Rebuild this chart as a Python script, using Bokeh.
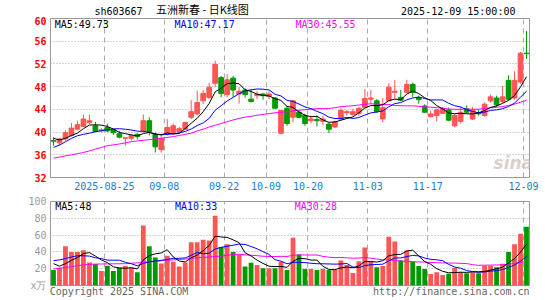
import numpy as np
import pandas as pd
from bokeh.plotting import figure
from bokeh.models import Range1d, FixedTicker, Label, ColumnDataSource
from bokeh.core.properties import value
from bokeh.layouts import column
from bokeh.embed import file_html
from bokeh.resources import INLINE

# ---------------- data ----------------
opens = [38.5, 38.1, 38.8, 39.4, 40.5, 41.0, 41.7, 41.1, 40.2, 40.8,
         40.4, 39.7, 38.9, 38.9, 39.6, 40.2, 42.0, 39.6, 36.9, 39.7,
         39.9, 40.1, 40.5, 42.6, 43.2, 45.5, 46.1, 48.6, 49.6, 46.6,
         49.5, 46.7, 47.4, 45.8, 46.4, 46.7, 46.3, 46.0, 39.8, 44.2,
         42.6, 43.5, 42.9, 42.0, 42.2, 41.9, 41.4, 40.9, 42.3, 43.4,
         43.1, 43.3, 44.35, 45.8, 45.5, 42.3, 45.5, 47.0, 46.1, 47.0,
         48.4, 46.1, 44.6, 42.7, 42.9, 43.3, 43.9, 41.1, 41.9, 44.1,
         42.3, 43.4, 42.9, 45.5, 46.0, 45.4, 49.1, 46.0, 48.8, 53.9]
highs = [39.1, 39.0, 40.3, 41.6, 42.0, 43.1, 43.1, 41.8, 40.7, 41.5,
         40.5, 40.2, 39.0, 39.5, 39.8, 43.1, 42.6, 39.9, 39.6, 42.3,
         41.5, 40.9, 41.8, 45.6, 47.3, 47.4, 48.7, 52.6, 49.9, 50.2,
         49.9, 47.9, 47.7, 47.4, 47.2, 46.9, 47.2, 46.2, 43.9, 44.6,
         45.6, 43.9, 43.2, 42.9, 42.9, 42.9, 41.7, 42.0, 44.3, 43.9,
         44.1, 44.4, 47.6, 47.4, 45.8, 46.0, 48.6, 49.2, 47.4, 49.2,
         48.7, 46.4, 44.9, 43.8, 44.1, 44.4, 44.3, 43.2, 44.4, 44.7,
         44.4, 44.0, 45.2, 46.6, 46.4, 48.1, 50.0, 50.7, 54.1, 57.8]
lows = [37.6, 37.7, 38.5, 39.2, 40.3, 40.9, 41.4, 40.0, 39.9, 40.0,
        39.5, 38.9, 37.6, 38.5, 38.7, 39.9, 39.4, 36.4, 36.4, 39.4,
        39.7, 39.8, 40.4, 42.3, 42.9, 44.9, 45.8, 47.9, 46.1, 46.1,
        46.2, 45.0, 46.1, 45.2, 45.8, 45.7, 45.8, 44.1, 39.6, 41.1,
        41.7, 42.4, 41.1, 41.5, 41.0, 41.2, 39.8, 40.7, 42.1, 42.9,
        42.8, 42.8, 44.2, 44.9, 43.4, 41.7, 45.4, 45.8, 45.4, 47.0,
        46.2, 45.0, 43.4, 42.6, 41.9, 43.2, 41.9, 40.8, 41.5, 43.2,
        42.1, 42.9, 42.7, 45.2, 44.4, 45.1, 45.5, 45.7, 48.5, 52.9]
closes = [38.4, 38.8, 39.9, 40.7, 41.3, 42.3, 42.0, 40.1, 40.4, 40.2,
          39.9, 39.1, 39.0, 39.4, 39.2, 42.0, 40.1, 37.4, 38.9, 40.8,
          41.1, 40.6, 41.7, 43.6, 45.2, 46.8, 47.9, 51.9, 46.8, 49.2,
          47.4, 47.2, 46.6, 45.4, 46.7, 46.4, 46.7, 44.2, 43.8, 41.5,
          45.5, 42.6, 41.5, 42.3, 42.0, 42.3, 40.5, 41.8, 43.8, 43.6,
          43.6, 44.2, 45.9, 46.0, 43.6, 44.3, 47.9, 47.2, 45.6, 48.4,
          47.0, 45.7, 43.5, 43.2, 43.9, 44.1, 42.1, 42.9, 43.5, 43.5,
          43.9, 43.2, 44.9, 46.2, 44.8, 46.2, 45.8, 49.1, 53.9, 53.8]
volumes = [18.4, 21.2, 46.7, 40.0, 40.0, 42.0, 27.5, 25.5, 17.3, 23.5,
           17.3, 21.2, 23.1, 21.2, 15.7, 71.4, 46.7, 33.3, 26.3, 35.3,
           28.2, 22.7, 27.5, 51.4, 51.4, 54.5, 53.7, 83.1, 45.9, 49.0,
           40.0, 36.9, 22.7, 27.0, 24.3, 20.4, 20.4, 20.4, 28.2, 18.4,
           56.9, 36.9, 19.6, 19.6, 18.4, 19.6, 18.4, 18.4, 29.8, 24.3,
           14.9, 29.0, 45.1, 29.0, 21.6, 23.1, 58.0, 52.5, 30.2, 41.6,
           28.2, 23.1, 19.6, 13.7, 15.7, 12.5, 14.1, 21.2, 15.7, 14.5,
           15.7, 14.5, 23.5, 23.5, 21.6, 25.9, 40.0, 49.0, 61.6, 69.8]

# moving-average values before enough history exists in the window
ma5_head = [38.9, 38.6, 38.9, 39.4]
ma10_head = [37.3, 37.7, 38.3, 38.9, 39.35, 39.6, 39.8, 40.06, 40.24]
ma30_head = [35.4, 35.6, 35.8, 36.0, 36.2, 36.4, 36.7, 37.0, 37.3, 37.6,
             37.75, 37.9, 38.1, 38.3, 38.45, 38.55, 38.65, 38.8, 38.9, 39.05,
             39.2, 39.4, 39.6, 39.8, 40.2, 40.5, 40.9, 41.2, 41.5]
vma5_head = [26.0, 23.0, 26.0, 30.0]
vma10_head = [29.5, 30.5, 32.0, 34.0, 35.4, 35.4, 35.0, 33.0, 32.0]
vma30_head = [19.7, 20.5, 21.5, 22.5, 23.5, 24.5, 25.2, 25.5, 25.6, 25.7,
              25.8, 25.9, 26.0, 26.5, 27.0, 27.5, 28.0, 28.8, 29.5, 30.0,
              30.5, 31.0, 31.5, 32.2, 33.0, 33.5, 34.0, 34.5, 35.0]

date_ticks = [9, 19, 29, 36, 43, 53, 63, 79]
date_labels = ["2025-08-25", "09-08", "09-22", "10-09", "10-20", "11-03", "11-17", "12-09"]
price_ticks = [32, 36, 40, 44, 48, 52, 56, 60]
vol_ticks = [0, 20, 40, 60, 80, 100]
vol_unit_label = "x万"

title_code = "sh603667"
title_name = "五洲新春 - 日K线图"
timestamp = "2025-12-09 15:00:00"
price_ma_labels = ["MA5:49.73", "MA10:47.17", "MA30:45.55"]
vol_ma_labels = ["MA5:48", "MA10:33", "MA30:28"]
footer_left = "Copyright 2025 SINA.COM"
footer_right = "http://finance.sina.com.cn"

# ---------------- derived ----------------
n = len(closes)
def ma(vals, w, head):
    s = pd.Series(vals).rolling(w).mean().tolist()
    return list(head) + s[len(head):]

ma5 = ma(closes, 5, ma5_head)
ma10 = ma(closes, 10, ma10_head)
ma30 = ma(closes, 30, ma30_head)
vma5 = ma(volumes, 5, vma5_head)
vma10 = ma(volumes, 10, vma10_head)
vma30 = ma(volumes, 30, vma30_head)

RED = "#ff5555"
GREEN = "#009a00"
x = [i + 0.5 for i in range(n)]
colors = [RED if c >= o else GREEN for o, c in zip(opens, closes)]
src = ColumnDataSource(dict(
    x=x, open=opens, close=closes, high=highs, low=lows, vol=volumes,
    top=[max(o, c) for o, c in zip(opens, closes)],
    bottom=[min(o, c) for o, c in zip(opens, closes)],
    color=colors,
    ma5=ma5, ma10=ma10, ma30=ma30, vma5=vma5, vma10=vma10, vma30=vma30,
))

MONO = "DejaVu Sans Mono"
CJK = "Noto Sans CJK SC"
GRID = "#aaaaaa"
tick_pos = [float(t) for t in date_ticks]
W = 545
H0 = 16

def style(p):
    p.outline_line_color = "#999999"
    p.outline_line_width = 1
    p.background_fill_color = "white"
    p.border_fill_color = "white"
    p.xgrid.ticker = FixedTicker(ticks=tick_pos)
    p.xgrid.grid_line_color = GRID
    p.xgrid.grid_line_dash = "5 4"
    p.ygrid.grid_line_color = GRID
    p.ygrid.grid_line_dash = "1 2"
    for ax in p.axis:
        ax.axis_line_color = None
        ax.major_tick_line_color = None
        ax.minor_tick_line_color = None
        ax.major_tick_out = 0
        ax.major_tick_in = 0
        ax.major_label_text_font = MONO
        ax.major_label_text_font_size = "10px"

# ---------------- header strip ----------------
p0 = figure(width=W, height=H0, x_range=Range1d(0, W), y_range=Range1d(H0, 0),
            output_backend="svg", toolbar_location=None,
            x_axis_location=None, y_axis_location=None,
            min_border_left=0, min_border_right=0, min_border_top=0, min_border_bottom=0)
p0.outline_line_color = None
p0.grid.visible = False
p0.text(x=[50], y=[10.6], text=[title_code], text_font=value(MONO), text_font_size="10px",
        text_align="left", text_baseline="middle", text_color="black")
p0.text(x=[120], y=[8.0], text=[title_name], text_font=value(CJK), text_font_size="11px",
        text_align="left", text_baseline="middle", text_color="black")
p0.text(x=[529], y=[10.6], text=[timestamp], text_font=value(MONO), text_font_size="10px",
        text_align="right", text_baseline="middle", text_color="black")

# ---------------- price panel ----------------
p1 = figure(width=W, height=195 - H0, x_range=Range1d(0, n), y_range=Range1d(32, 60),
            output_backend="svg", toolbar_location=None,
            min_border_left=50, min_border_right=16, min_border_top=18 - H0, min_border_bottom=18)
style(p1)
p1.yaxis.ticker = FixedTicker(ticks=price_ticks)
p1.ygrid.ticker = FixedTicker(ticks=price_ticks)
p1.yaxis.major_label_text_color = "#ff0000"
p1.yaxis.major_label_text_font_style = "bold"
p1.yaxis.major_label_standoff = 4
p1.xaxis.ticker = FixedTicker(ticks=tick_pos)
p1.xaxis.major_label_overrides = {t: l for t, l in zip(tick_pos, date_labels)}
p1.xaxis.major_label_text_color = "#1c7cd5"
p1.xaxis.major_label_standoff = 4

p1.segment(x0="x", y0="low", x1="x", y1="high", color="color", line_width=1, source=src)
p1.vbar(x="x", width=0.78, top="top", bottom="bottom", fill_color="color",
        line_color="color", line_width=1, source=src)
p1.line("x", "ma30", color="#ff00ff", line_width=1, source=src)
p1.line("x", "ma10", color="#0000ff", line_width=1, source=src)
p1.line("x", "ma5", color="#000000", line_width=1, source=src)

def lab(p, x, y, text, color="black", size="10px", align="left", font=MONO, style="normal", alpha=1.0):
    p.add_layout(Label(x=x, y=y, text=text, text_color=color, text_font=font,
                       text_font_size=size, text_align=align, text_baseline="middle",
                       text_font_style=style, text_alpha=alpha))

lab(p1, 0.7, 58.95, price_ma_labels[0], color="#000000")
lab(p1, 20.7, 58.95, price_ma_labels[1], color="#0000ff")
lab(p1, 40.9, 58.95, price_ma_labels[2], color="#ff00ff")
lab(p1, 77.3, 34.6, "sina", color="#d6c0c0", size="17px", align="center",
    font="DejaVu Sans", style="bold italic", alpha=0.8)

# ---------------- volume panel ----------------
p2 = figure(width=W, height=105, x_range=p1.x_range, y_range=Range1d(0, 100),
            output_backend="svg", toolbar_location=None,
            min_border_left=50, min_border_right=16, min_border_top=6, min_border_bottom=15)
style(p2)
p2.yaxis.ticker = FixedTicker(ticks=vol_ticks)
p2.yaxis.major_label_overrides = {0: vol_unit_label}
p2.ygrid.ticker = FixedTicker(ticks=vol_ticks[1:-1])
p2.yaxis.major_label_text_color = "#999999"
p2.yaxis.major_label_standoff = 4
# footer texts carried by the bottom axis of the volume panel
foot_pos = [11.45, 66.95]
p2.xaxis.ticker = FixedTicker(ticks=foot_pos)
p2.xaxis.major_label_overrides = {foot_pos[0]: footer_left, foot_pos[1]: footer_right}
p2.xaxis.major_label_text_color = "#666666"
p2.xaxis.major_label_standoff = 0

p2.vbar(x="x", width=0.8, top="vol", bottom=0, fill_color="color", line_color=None, source=src)
p2.line("x", "vma30", color="#ff00ff", line_width=1, source=src)
p2.line("x", "vma10", color="#0000ff", line_width=1, source=src)
p2.line("x", "vma5", color="#000000", line_width=1, source=src)

lab(p2, 0.8, 94.0, vol_ma_labels[0], color="#000000")
lab(p2, 20.8, 94.0, vol_ma_labels[1], color="#0000ff")
lab(p2, 40.8, 94.0, vol_ma_labels[2], color="#ff00ff")

layout = column(p0, p1, p2, spacing=0)
open("out.html", "w").write(file_html(layout, INLINE))
